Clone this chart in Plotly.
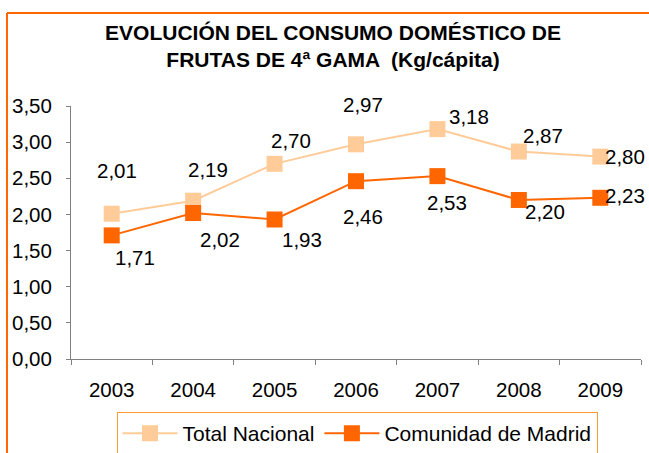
import plotly.graph_objects as go

years = ["2003", "2004", "2005", "2006", "2007", "2008", "2009"]
total_nacional = [2.01, 2.19, 2.70, 2.97, 3.18, 2.87, 2.80]
madrid = [1.71, 2.02, 1.93, 2.46, 2.53, 2.20, 2.23]
y_ticks = [0, 0.5, 1, 1.5, 2, 2.5, 3, 3.5]

# label offsets in pixels (dx, dy up)
tn_off = [(5, 43), (15, 31), (16, 23), (7, 40), (32, 13), (24, 16), (25, 0)]
md_off = [(23, -22), (27, -27), (27, -20), (7, -35), (10, -26), (26, -12), (25, 2)]

PEACH = "#FFCC99"
ORANGE = "#FF6600"
FONT = "Liberation Sans, Arial, sans-serif"
FS = 20.5

fig = go.Figure()
fig.add_trace(go.Scatter(x=years, y=total_nacional, name="Total Nacional",
                         mode="lines+markers",
                         line=dict(color=PEACH, width=2),
                         marker=dict(symbol="square", size=16, color=PEACH)))
fig.add_trace(go.Scatter(x=years, y=madrid, name="Comunidad de Madrid",
                         mode="lines+markers",
                         line=dict(color=ORANGE, width=2),
                         marker=dict(symbol="square", size=16, color=ORANGE)))

def fmt(v):
    return f"{v:.2f}".replace(".", ",")

for i, (v, (dx, dy)) in enumerate(zip(total_nacional, tn_off)):
    fig.add_annotation(x=i, y=v, xref="x", yref="y", text=fmt(v), showarrow=False,
                       xshift=dx, yshift=dy, font=dict(size=FS, color="black", family=FONT))
for i, (v, (dx, dy)) in enumerate(zip(madrid, md_off)):
    fig.add_annotation(x=i, y=v, xref="x", yref="y", text=fmt(v), showarrow=False,
                       xshift=dx, yshift=dy, font=dict(size=FS, color="black", family=FONT))

# outer chart border (left and top visible)
fig.add_shape(type="line", xref="paper", yref="paper",
              x0=(7 - 71) / 570, x1=(7 - 71) / 570, y0=(359 - 460) / 253, y1=(359 - 13) / 253,
              line=dict(color=ORANGE, width=2))
fig.add_shape(type="line", xref="paper", yref="paper",
              x0=(7 - 71) / 570, x1=(660 - 71) / 570, y0=(359 - 13) / 253, y1=(359 - 13) / 253,
              line=dict(color=ORANGE, width=2))

fig.update_layout(
    width=649, height=453,
    margin=dict(l=71, r=8, t=106, b=94),
    paper_bgcolor="white", plot_bgcolor="white",
    separators=",.",
    font=dict(family=FONT, size=FS, color="black"),
    title=dict(text="<b>EVOLUCIÓN DEL CONSUMO DOMÉSTICO DE<br>FRUTAS DE 4ª GAMA  (Kg/cápita)</b>",
               x=333 / 649, xanchor="center", xref="container",
               y=1 - 40 / 453, yanchor="top", yref="container",
               font=dict(size=21, family=FONT, color="black")),
    xaxis=dict(type="category", tickson="boundaries", ticks="outside", ticklen=5,
               tickcolor="#808080", showline=True, linecolor="#808080", linewidth=1,
               showgrid=False, tickfont=dict(size=FS), ticklabelstandoff=12,
               range=[-0.5, 6.5]),
    yaxis=dict(range=[0, 3.5], tickvals=y_ticks, tickformat=".2f", ticks="outside",
               ticklen=4, tickcolor="#808080", showline=True, linecolor="#808080",
               linewidth=1, showgrid=False, zeroline=False, tickfont=dict(size=FS),
               ticklabelstandoff=10),
    legend=dict(orientation="h", xref="container", yref="container",
                x=357 / 649, xanchor="center",
                y=1 - 412 / 453, yanchor="top", itemwidth=55,
                bordercolor="#FF9933", borderwidth=1, font=dict(size=21)),
    showlegend=True,
)

fig.write_html("out.html", config={"displayModeBar": False},
               post_script="document.body.style.margin='0px';")
